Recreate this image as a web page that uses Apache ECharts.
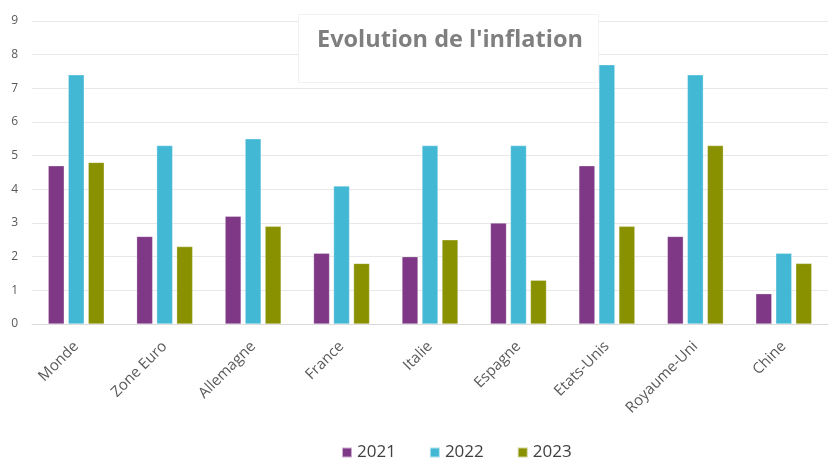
<!DOCTYPE html>
<html><head><meta charset="utf-8">
<script src="https://cdn.jsdelivr.net/npm/echarts@6/dist/echarts.min.js"></script>
<style>html,body{margin:0;padding:0;background:#fff}#c{width:829px;height:459px}</style>
</head><body><div id="c"></div>
<script>
const categories = ['Monde','Zone Euro','Allemagne','France','Italie','Espagne','Etats-Unis','Royaume-Uni','Chine'];
const s2021 = [4.7, 2.6, 3.2, 2.1, 2.0, 3.0, 4.7, 2.6, 0.9];
const s2022 = [7.4, 5.3, 5.5, 4.1, 5.3, 5.3, 7.7, 7.4, 2.1];
const s2023 = [4.8, 2.3, 2.9, 1.8, 2.5, 1.3, 2.9, 5.3, 1.8];
const seriesNames = ['2021','2022','2023'];
const colors = ['#7E3886','#42B8D5','#899100'];
const font = '"Open Sans", "Noto Sans", sans-serif';
const chart = echarts.init(document.getElementById('c'));
const mk = (name, data, i) => ({
  name, type: 'bar', data, barWidth: 16, barGap: '25%',
  itemStyle: { color: colors[i], borderColor: 'rgba(255,255,255,0.6)', borderWidth: 0.5 }
});
chart.setOption({
  animation: false,
  color: colors,
  title: {
    text: "Evolution de l'inflation",
    left: 298, top: 14,
    padding: [14, 16, 31, 19],
    backgroundColor: '#fff',
    borderColor: '#f2f2f2', borderWidth: 1,
    textStyle: { fontFamily: font, fontSize: 23.5, fontWeight: 'bold', color: '#7f7f7f' }
  },
  grid: { left: 32, right: 1, top: 21, bottom: 135, containLabel: false },
  legend: {
    top: 439, left: 336,
    itemWidth: 10, itemHeight: 10, itemGap: 33,
    icon: 'rect',
    textStyle: { fontFamily: font, fontSize: 17, color: '#404040' },
    data: seriesNames
  },
  xAxis: {
    type: 'category', data: categories,
    axisLine: { lineStyle: { color: '#d9d9d9' } },
    axisTick: { show: false },
    axisLabel: { rotate: 45, margin: 20, interval: 0, fontFamily: font, fontSize: 15, color: '#595959' }
  },
  yAxis: {
    type: 'value', min: 0, max: 9, interval: 1,
    axisLine: { show: false }, axisTick: { show: false },
    axisLabel: { margin: 14, fontFamily: font, fontSize: 12, color: '#595959' },
    splitLine: { lineStyle: { color: '#e8e8e8' } }
  },
  series: [mk(seriesNames[0], s2021, 0), mk(seriesNames[1], s2022, 1), mk(seriesNames[2], s2023, 2)]
});
</script></body></html>
